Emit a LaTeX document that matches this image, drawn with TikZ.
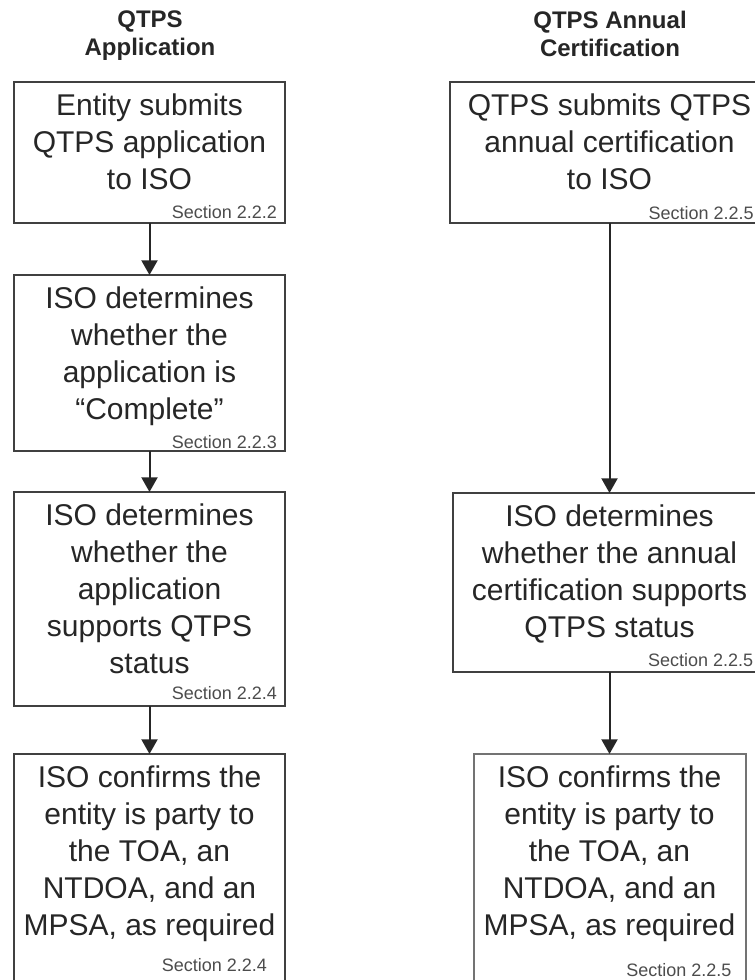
\documentclass[tikz,border=0pt]{standalone}
\usepackage{fontspec}
\setmainfont{Liberation Sans}
\usetikzlibrary{arrows.meta,positioning}

\tikzset{
  stepbox/.style={draw=black!75, line width=1.5pt, inner sep=0pt, outer sep=0pt},
  steptext/.style={align=center, inner sep=0pt, outer sep=0pt, text=black!85,
    font=\fontsize{22.5}{27.75}\selectfont},
  sectext/.style={inner sep=0pt, outer sep=0pt, text=black!70,
    font=\fontsize{13.5}{16}\selectfont},
  coltitle/.style={align=center, inner sep=0pt, text=black!85,
    font=\fontsize{18}{21}\selectfont\bfseries},
  flow/.style={-{Triangle[length=11pt,width=12pt]}, line width=1.5pt, draw=black!85}
}

\begin{document}
\begin{tikzpicture}[x=0.75pt,y=-0.75pt]
    \clip (0,0) rectangle (755,980);
    % Column titles
    \node[coltitle, anchor=north] (ttlA) at (150,10) {QTPS\\Application};
    \node[coltitle, anchor=north] (ttlB) at (610,11) {QTPS Annual\\Certification};
    % Left column: application
    \node[stepbox, minimum width=203.25pt, minimum height=105.75pt] (a1) at (149.5,152.5) {};
    \node[stepbox, minimum width=203.25pt, minimum height=132pt] (a2) at (149.5,363) {};
    \node[stepbox, minimum width=203.25pt, minimum height=160.5pt] (a3) at (149.5,599) {};
    \node[stepbox, minimum width=203.25pt, minimum height=180.75pt] (a4) at (149.5,874.5) {};
    \node[steptext, below=9pt of a1.north] (ta1) {Entity submits\\QTPS application\\to ISO};
    \node[steptext, below=9pt of a2.north] (ta2) {ISO determines\\whether the\\application is\\“Complete”};
    \node[steptext, below=9pt of a3.north] (ta3) {ISO determines\\whether the\\application\\supports QTPS\\status};
    \node[steptext, below=9pt of a4.north] (ta4) {ISO confirms the\\entity is party to\\the TOA, an\\NTDOA, and an\\MPSA, as required};
    \node[sectext, above left=3.4pt and 6pt of a1.south east] (sa1) {Section 2.2.2};
    \node[sectext, above left=1.9pt and 6pt of a2.south east] (sa2) {Section 2.2.3};
    \node[sectext, above left=4.9pt and 6pt of a3.south east] (sa3) {Section 2.2.4};
    \node[sectext, above left=17.6pt and 13.5pt of a4.south east] (sa4) {Section 2.2.4};
    % Right column: annual certification
    \node[stepbox, minimum width=239.25pt, minimum height=105.75pt] (b1) at (609.5,152.5) {};
    \node[stepbox, minimum width=234.75pt, minimum height=134.25pt] (b2) at (609.5,582.5) {};
    \node[stepbox, draw=black!55, minimum width=204pt, minimum height=180.75pt] (b3) at (609.5,874.5) {};
    \node[steptext, below=9pt of b1.north] (tb1) {QTPS submits QTPS\\annual certification\\to ISO};
    \node[steptext, below=9pt of b2.north] (tb2) {ISO determines\\whether the annual\\certification supports\\QTPS status};
    \node[steptext, below=9pt of b3.north] (tb3) {ISO confirms the\\entity is party to\\the TOA, an\\NTDOA, and an\\MPSA, as required};
    \node[sectext, above left=2.6pt and 11.5pt of b1.south east] (sb1) {Section 2.2.5};
    \node[sectext, above left=4.1pt and 9.6pt of b2.south east] (sb2) {Section 2.2.5};
    \node[sectext, above left=14pt and 10.5pt of b3.south east] (sb3) {Section 2.2.5};
    % Flow arrows
    \draw[flow] (a1) -- (a2);
    \draw[flow] (a2) -- (a3);
    \draw[flow] (a3) -- (a4);
    \draw[flow] (b1.south) -- (b2.north);
    \draw[flow] (b2.south) -- (b3.north);
\end{tikzpicture}
\end{document}
